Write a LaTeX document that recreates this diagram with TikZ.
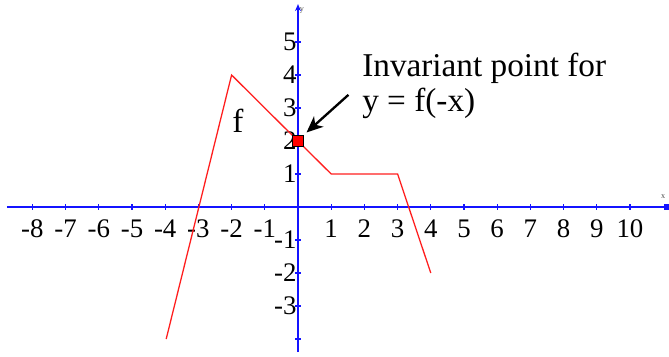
\documentclass[tikz,border=0pt]{standalone}
\usepackage{fontspec}
\setmainfont{Liberation Serif}
\usetikzlibrary{arrows.meta}
\definecolor{axisblue}{RGB}{20,20,255}
\definecolor{graphred}{RGB}{255,30,30}
\tikzset{
  axisline/.style={axisblue,line width=1.4pt},
  tickmark/.style={axisblue,line width=1pt},
  ticklab/.style={font=\fontsize{23}{23}\selectfont,inner sep=0pt},
  graphline/.style={graphred,line width=1.1pt},
  bigtext/.style={font=\fontsize{28.5}{34}\selectfont,inner sep=0pt},
  smalllab/.style={font=\fontsize{7}{7}\selectfont,inner sep=0pt,text=gray!60!black},
  ptsquare/.style={draw=black,fill=red,line width=0.6pt,minimum size=10pt,inner sep=0pt},
  pointer/.style={black,line width=2pt,-{Stealth[length=14pt,width=12pt,inset=4pt]}}
}
\begin{document}
\begin{tikzpicture}[x=1cm,y=0.994cm]
\useasboundingbox (-8.976,-4.515) rectangle (11.175,6.273);
% axes
\draw[axisline] (-8.77,0) -- (11.1,0);
\fill[axisblue] (11.02,-0.09) rectangle (11.2,0.09);
\draw[axisline,-{Stealth[length=6pt,width=5pt]}] (0,-4.4) -- (0,6.15);
\node[smalllab] (xlab) at (11.0,0.32) {x};
\node[smalllab] (ylab) at (0.12,5.95) {y};
% x ticks and labels
\foreach \i in {-8,...,-1,1,2,...,10}{
  \draw[tickmark] (\i,-0.09) -- (\i,0.09);
  \node[ticklab,anchor=base] (xt\i) at (\i,-0.92) {\i};
}
% y ticks and labels
\foreach \j in {-4,...,-1,1,2,...,5}{
  \draw[tickmark] (-0.09,\j) -- (0.09,\j);
}
\foreach \j in {-3,...,-1,1,2,...,5}{
  \node[ticklab,anchor=east] (yt\j) at (-0.04,\j) {\j};
}
% graph of f
\draw[graphline] (-3.97,-4) -- (-2,4) -- (1,1) -- (3,1) -- (4,-2);
\node[bigtext] (flab) at (-1.81,2.6) {f};
% invariant point
\node[ptsquare] (sq) at (0,2) {};
\node[bigtext,anchor=base west] (t1) at (1.93,3.94) {Invariant point for};
\node[bigtext,anchor=base west] (t2) at (1.93,2.88) {y = f(-x)};
\coordinate (arrstart) at (1.52,3.4);
\draw[pointer] (arrstart) -- ([shift={(2pt,2pt)}]sq.north east);
\end{tikzpicture}
\end{document}
